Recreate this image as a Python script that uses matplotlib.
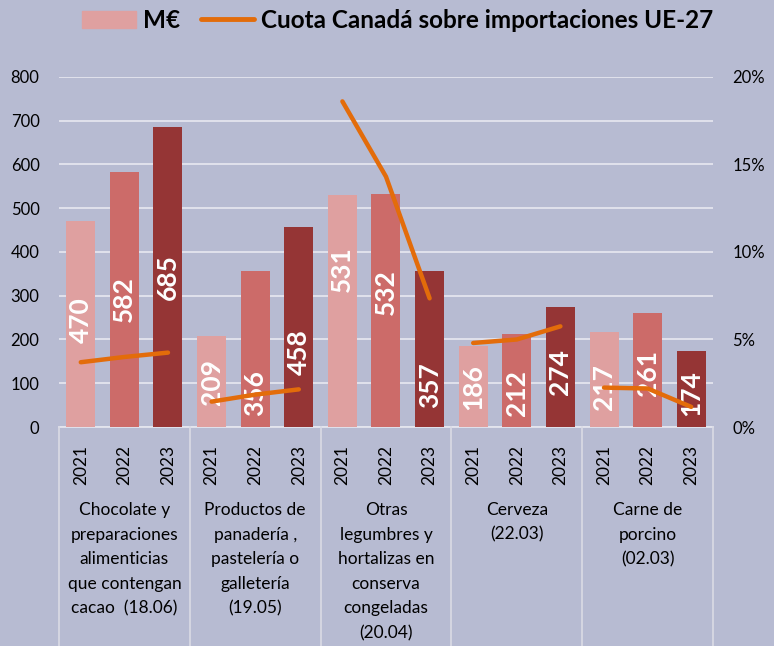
import numpy as np
import matplotlib
matplotlib.use("Agg")
import matplotlib.pyplot as plt
import matplotlib.transforms as mtransforms
from matplotlib.patches import Patch
from matplotlib.lines import Line2D

# ---- data ----
categories = [
    "Chocolate y\npreparaciones\nalimenticias\nque contengan\ncacao  (18.06)",
    "Productos de\npanadería ,\npastelería o\ngalletería\n(19.05)",
    "Otras\nlegumbres y\nhortalizas en\nconserva\ncongeladas\n(20.04)",
    "Cerveza\n(22.03)",
    "Carne de\nporcino\n(02.03)",
]
years = ["2021", "2022", "2023"]
meur = [
    [470, 582, 685],
    [209, 356, 458],
    [531, 532, 357],
    [186, 212, 274],
    [217, 261, 174],
]
cuota = [  # % share of Canada in EU-27 imports
    [3.7, 4.0, 4.25],
    [1.45, 1.85, 2.15],
    [18.6, 14.3, 7.35],
    [4.8, 5.0, 5.75],
    [2.25, 2.2, 1.15],
]
# where each value label sits (in M€ units, as placed in the original)
label_y = [
    [245, 293, 343],
    [103, 78, 171],
    [361, 309, 96],
    [91, 78, 126],
    [91, 123, 78],
]

BG = "#B7BBD2"
bar_colors = ["#DFA0A0", "#CC6B69", "#953535"]
LINE = "#E36C0A"
GRID = "#E4E5EE"

plt.rcParams["font.family"] = ["Lato", "DejaVu Sans"]

fig = plt.figure(figsize=(7.74, 6.46), dpi=100, facecolor=BG)
ax = fig.add_axes([0.0762, 0.339, 0.845, 0.542], facecolor=BG)
ax2 = ax.twinx()

ng, ny = len(categories), len(years)
xs = np.arange(ng * ny)
for g in range(ng):
    for j in range(ny):
        x = g * ny + j
        ax.bar(x, meur[g][j], width=0.665, color=bar_colors[j], zorder=2)
        ax.text(x, label_y[g][j], str(meur[g][j]), rotation=90,
                ha="center", va="center", color="white", fontsize=19,
                fontweight="bold", zorder=4)
    ax2.plot(xs[g * ny:(g + 1) * ny], cuota[g], color=LINE, lw=3.2,
             solid_capstyle="round", solid_joinstyle="round", zorder=5)

ax.set_xlim(-0.5, ng * ny - 0.5)
ax.set_ylim(0, 800)
ax.set_yticks(range(0, 801, 100))
ax2.set_ylim(0, 20)
ax2.set_yticks(range(0, 21, 5))
ax2.set_yticklabels([f"{v}%" for v in range(0, 21, 5)])
ax.yaxis.grid(True, color=GRID, lw=1.3, zorder=0)
ax.set_axisbelow(True)

for a in (ax, ax2):
    for s in a.spines.values():
        s.set_visible(False)
    a.tick_params(axis="y", length=0, labelsize=12, colors="black")
ax.tick_params(axis="y", pad=14)
ax2.tick_params(axis="y", pad=14)

ax.set_xticks(xs)
ax.set_xticklabels(years * ng, rotation=90, fontsize=12.5, va="top")
ax.tick_params(axis="x", length=0, pad=13)

# put the line axis above the bars
ax2.set_zorder(ax.get_zorder() + 1)
ax2.patch.set_visible(False)

# category box lines under the axis
tr = mtransforms.blended_transform_factory(ax.transData, ax.transAxes)
ax.plot([-0.5, ng * ny - 0.5], [0, 0], color=GRID, lw=1.3, transform=tr,
        clip_on=False, zorder=1)
for g in range(ng + 1):
    xb = g * ny - 0.5
    ax.plot([xb, xb], [0, -0.64], color="#DADBE5", lw=1.2, transform=tr,
            clip_on=False)
for g, name in enumerate(categories):
    ax.text(g * ny + 1, -0.214, name, transform=tr, ha="center", va="top",
            fontsize=12.5, linespacing=1.66)

handles = [Patch(color=bar_colors[0]),
           Line2D([0], [0], color=LINE, lw=3.5, solid_capstyle="round")]
fig.legend(handles, ["M€", "Cuota Canadá sobre importaciones UE-27"],
           loc="center", bbox_to_anchor=(0.514, 0.969), ncol=2, frameon=False,
           prop={"weight": "bold", "size": 17.5}, handlelength=2.2,
           handletextpad=0.3, columnspacing=0.85)

fig.savefig("out.png", dpi=100, facecolor=BG)
